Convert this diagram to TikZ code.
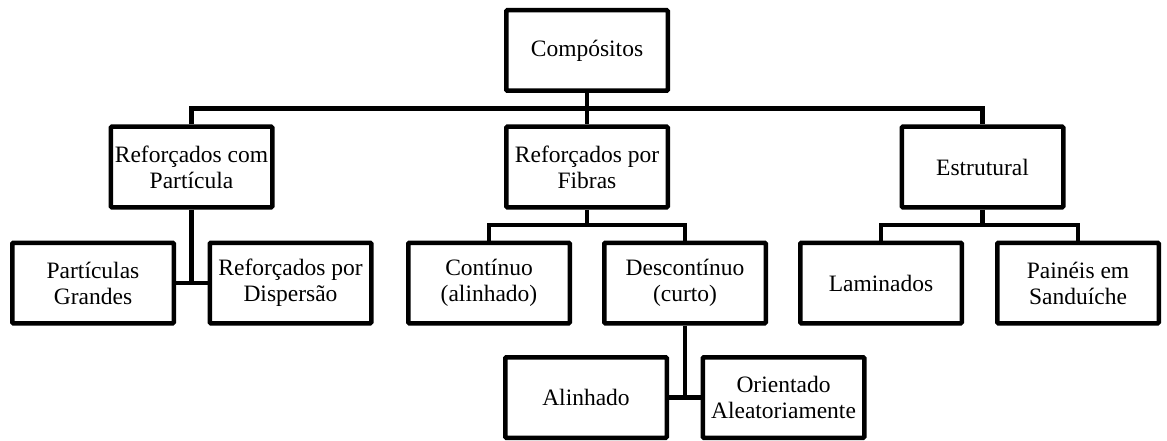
\documentclass[tikz,border=0pt]{standalone}
\usepackage{fontspec}
\setmainfont{Liberation Serif}
\usetikzlibrary{calc}

\begin{document}
\begin{tikzpicture}[x=1pt, y=-1pt,
  box/.style={draw, line width=4.5pt, rounded corners=1pt, align=center,
    minimum width=161.5pt, minimum height=80.5pt, inner sep=2pt,
    font=\fontsize{23.5}{26}\selectfont},
  link/.style={line width=4.5pt}]
\useasboundingbox (0,0) rectangle (1167,441);

\node[box] at (587,50.5) (comp) {Compósitos};

\node[box] at (191.5,167) (part) {Reforçados com\\Partícula};
\node[box] at (587,167) (fib) {Reforçados por\\Fibras};
\node[box] at (982.5,167) (estr) {Estrutural};

\node[box] at (93,283) (grandes) {Partículas\\Grandes};
\node[box] at (290.5,283) (disp) {Reforçados por\\Dispersão};
\node[box] at (489,283) (cont) {Contínuo\\(alinhado)};
\node[box] at (685,283) (desc) {Descontínuo\\(curto)};
\node[box] at (881,283) (lam) {Laminados};
\node[box] at (1078,283) (sand) {Painéis em\\Sanduíche};

\node[box] at (586,397.5) (alin) {Alinhado};
\node[box] at (783.5,397.5) (orient) {Orientado\\Aleatoriamente};

%top level
\coordinate (topbus) at ($(comp.south)!.5!(fib.north)$);
\draw[link] (comp) -- (fib);
\draw[link] (part.north) |- (topbus) -| (estr.north);

%fibras
\coordinate (fibbus) at ($(fib.south)!.5!(fib.south |- cont.north)$);
\draw[link] (fib.south) -- (fibbus);
\draw[link] (cont.north) |- (fibbus) -| (desc.north);

%estrutural
\coordinate (estrbus) at ($(estr.south)!.5!(estr.south |- lam.north)$);
\draw[link] (estr.south) -- (estrbus);
\draw[link] (lam.north) |- (estrbus) -| (sand.north);

%particula
\draw[link] (part.south) -- (part.south |- grandes.east);
\draw[link] (grandes.east) -- (disp.west);

%descontinuo
\draw[link] (desc.south) -- (desc.south |- alin.east);
\draw[link] (alin.east) -- (orient.west);
\end{tikzpicture}
\end{document}
